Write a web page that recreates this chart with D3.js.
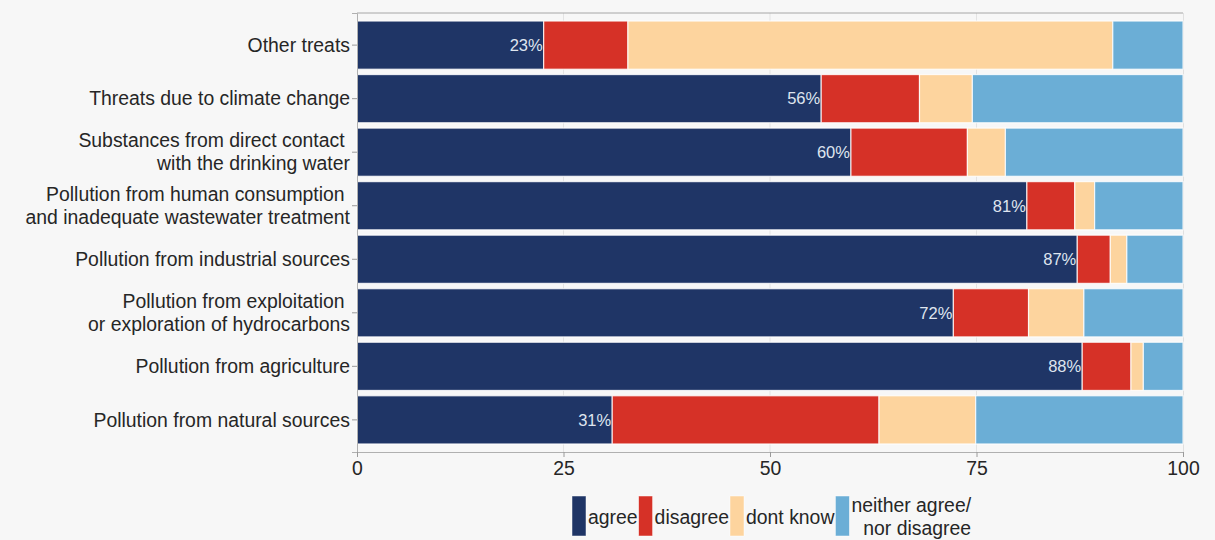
<!DOCTYPE html>
<html>
<head>
<meta charset="utf-8">
<script src="https://cdn.jsdelivr.net/npm/d3@7"></script>
<style>
  html, body { margin: 0; padding: 0; background: #f7f7f7; }
  svg { display: block; font-family: "Liberation Sans", Arial, sans-serif; }
</style>
</head>
<body>
<svg id="chart" width="1215" height="540"></svg>
<script>
// ---- data ----
const categories = [
  ["Other treats"],
  ["Threats due to climate change"],
  ["Substances from direct contact ", "with the drinking water"],
  ["Pollution from human consumption ", "and inadequate wastewater treatment"],
  ["Pollution from industrial sources"],
  ["Pollution from exploitation ", "or exploration of hydrocarbons"],
  ["Pollution from agriculture"],
  ["Pollution from natural sources"]
];
const seriesNames = ["agree", "disagree", "dont know", "neither agree/\nnor disagree"];
const agree      = [22.6, 56.2, 59.8, 81.1, 87.2, 72.2, 87.8, 30.9];
const disagree   = [10.2, 11.9, 14.1,  5.8,  4.0,  9.1,  5.9, 32.3];
const dontKnow   = [58.7,  6.4,  4.6,  2.4,  2.0,  6.7,  1.5, 11.7];
const neither    = [ 8.5, 25.5, 21.5, 10.7,  6.8, 12.0,  4.8, 25.1];
const agreeLabels = ["23%", "56%", "60%", "81%", "87%", "72%", "88%", "31%"];
const xTicks = [0, 25, 50, 75, 100];
const colors = ["#1f3566", "#d63127", "#fdd49e", "#6baed6"];

(function() {
// ---- layout ----
const svg = d3.select("#chart");
const pLeft = 357, pRight = 1183, pTop = 13, pBottom = 452;
const fontFam = "'Liberation Sans', Arial, sans-serif";
const keys = categories.map(c => c.join("|"));
const x = d3.scaleLinear().domain([0, 100]).range([pLeft, pRight]);
const y = d3.scaleBand().domain(keys).range([pTop, pBottom]).paddingInner(0.1).paddingOuter(0.15);

const rows = keys.map((k, i) => ({ key: k, vals: [agree[i], disagree[i], dontKnow[i], neither[i]] }));
const stack = d3.stack().keys([0, 1, 2, 3]).value((d, j) => d.vals[j]);
const stacked = stack(rows);

// gridlines
svg.append("g").selectAll("line").data(xTicks.filter(t => t > 0 && t < 100)).join("line")
  .attr("x1", d => x(d)).attr("x2", d => x(d)).attr("y1", pTop).attr("y2", pBottom)
  .attr("stroke", "#e3e3e3").attr("stroke-width", 1);

// top & right border
svg.append("line").attr("x1", pLeft).attr("x2", pRight).attr("y1", pTop).attr("y2", pTop)
  .attr("stroke", "#a6a6a6").attr("stroke-width", 1);
svg.append("line").attr("x1", pRight + 0.5).attr("x2", pRight + 0.5).attr("y1", pTop).attr("y2", pBottom)
  .attr("stroke", "#e0e0e0").attr("stroke-width", 1);

// bars
svg.append("g").selectAll("g").data(stacked).join("g")
  .attr("fill", (d, i) => colors[i])
  .selectAll("rect").data(d => d).join("rect")
  .attr("x", d => x(d[0]))
  .attr("width", d => x(d[1]) - x(d[0]))
  .attr("y", d => y(d.data.key))
  .attr("height", y.bandwidth())
  .attr("stroke", "#ffffff").attr("stroke-width", 1.2).attr("stroke-opacity", 0.8);

// agree labels
svg.append("g").selectAll("text").data(rows).join("text")
  .attr("x", (d, i) => x(agree[i]) - 1)
  .attr("y", d => y(d.key) + y.bandwidth() / 2)
  .attr("dy", "0.35em")
  .attr("text-anchor", "end")
  .attr("font-size", 16.5)
  .attr("fill", "#dfe5ef")
  .text((d, i) => agreeLabels[i]);

// y axis
const yAxis = d3.axisLeft(y).tickSize(5).tickPadding(2).tickFormat(() => "");
const gy = svg.append("g").attr("transform", `translate(${pLeft},0)`).call(yAxis);
gy.select(".domain").attr("stroke", "#b0b0b0");
gy.selectAll(".tick line").attr("stroke", "#9a9a9a");
gy.selectAll(".tick").each(function(k, i) {
  const lines = categories[i];
  const t = d3.select(this).append("text")
    .attr("x", -7).attr("text-anchor", "end")
    .attr("font-size", 19.4).attr("fill", "#262626")
    .attr("font-family", fontFam)
    .style("white-space", "pre");
  const lh = 23;
  lines.forEach((ln, j) => {
    t.append("tspan").attr("x", -7)
      .attr("y", (j - (lines.length - 1) / 2) * lh)
      .attr("dy", "0.35em")
      .text(ln);
  });
});

// x axis
const xAxis = d3.axisBottom(x).tickValues(xTicks).tickSize(5).tickPadding(4).tickFormat(d3.format("d"));
const gx = svg.append("g").attr("transform", `translate(0,${pBottom})`).call(xAxis);
gx.select(".domain").attr("stroke", "#b0b0b0");
gx.selectAll(".tick line").attr("stroke", "#9a9a9a");
gx.selectAll(".tick text").attr("font-size", 19.4).attr("fill", "#262626")
  .attr("font-family", fontFam);

// legend
const leg = svg.append("g");
let cx = 572;
seriesNames.forEach((name, i) => {
  leg.append("rect").attr("x", cx).attr("y", 496).attr("width", 14).attr("height", 40)
    .attr("fill", colors[i]).attr("stroke", "#ffffff").attr("stroke-width", 0.8).attr("stroke-opacity", 0.6);
  const lines = name.split("\n");
  const tx = cx + 16;
  const txt = leg.append("text").attr("font-size", 19.4).attr("fill", "#262626");
  lines.forEach((ln, j) => {
    txt.append("tspan").attr("x", tx).attr("y", 517 + (j - (lines.length - 1) / 2) * 23)
      .attr("dy", "0.35em").text(ln);
  });
  let maxW = 0;
  txt.selectAll("tspan").each(function() { maxW = Math.max(maxW, this.getComputedTextLength()); });
  if (lines.length > 1) {
    txt.attr("text-anchor", "end");
    txt.selectAll("tspan").attr("x", tx + maxW);
  }
  cx = tx + maxW + 1;
});
})();
</script>
</body>
</html>
